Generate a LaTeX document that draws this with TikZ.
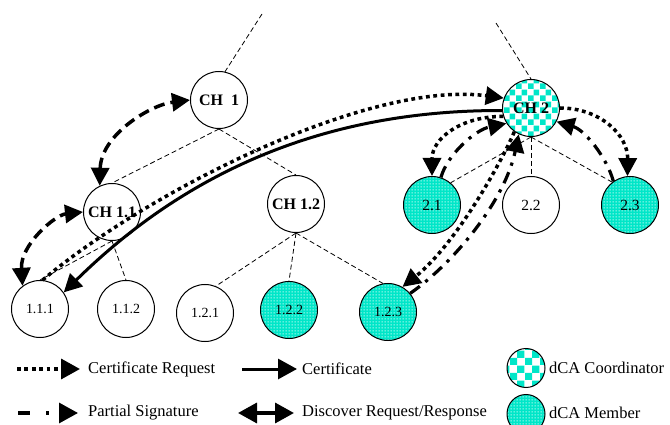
\documentclass[tikz,border=0pt]{standalone}
\usepackage{fontspec}
\setmainfont{Liberation Serif}
\usetikzlibrary{arrows.meta,patterns,patterns.meta,shapes.geometric}
\definecolor{tq}{RGB}{0,230,200}
\tikzdeclarepattern{name=chk,type=uncolored,bottom left={(0pt,0pt)},top right={(12pt,12pt)},tile size={(12pt,12pt)},
  code={\fill (0pt,0pt) rectangle (6pt,6pt); \fill (6pt,6pt) rectangle (12pt,12pt);}}
\tikzdeclarepattern{name=chkL,type=uncolored,bottom left={(0pt,0pt)},top right={(15pt,15pt)},tile size={(15pt,15pt)},
  code={\fill (0pt,0pt) rectangle (7.5pt,7.5pt); \fill (7.5pt,7.5pt) rectangle (15pt,15pt);}}
\tikzdeclarepattern{name=mesh,type=uncolored,bottom left={(0pt,0pt)},top right={(3pt,3pt)},tile size={(3pt,3pt)},
  code={\fill (0.8pt,0.8pt) rectangle (2.2pt,2.2pt);}}
\begin{document}
\begin{tikzpicture}[x=1pt,y=-1pt,
  >={Triangle[length=18pt,width=18pt]},
  nd/.style={circle,draw,line width=1pt,minimum size=57pt,inner sep=0pt},
  plain/.style={nd,fill=white},
  coord/.style={nd,preaction={fill=white},pattern=chk,pattern color=tq},
  member/.style={nd,preaction={fill=tq},pattern=mesh,pattern color=white!90!tq},
  chfont/.style={font=\fontsize{16}{16}\selectfont\bfseries},
  numfont/.style={font=\fontsize{14}{14}\selectfont},
  numfontb/.style={font=\fontsize{15.5}{15.5}\selectfont},
  lab/.style={font=\fontsize{16.5}{16.5}\selectfont,anchor=west,inner sep=0pt},
  tree/.style={line width=0.8pt,dash pattern=on 5pt off 3pt},
  creq/.style={line width=3.5pt,dash pattern=on 3.8pt off 3.6pt,->},
  cert/.style={line width=3pt,->},
  psig/.style={line width=3.2pt,dash pattern=on 12pt off 7pt on 3.2pt off 7pt,->},
  disc/.style={line width=3.5pt,dash pattern=on 11pt off 6pt,<->},
  big/.style={>={Triangle[length=19pt,width=20pt]}}
]
\useasboundingbox (0,0) rectangle (670,425);

% nodes
\node[plain,chfont] (ch1) at (219,100) {CH\ \ 1};
\node[plain,chfont] (ch11) at (112,212) {CH 1.1};
\node[plain,chfont] (ch12) at (296,204) {CH 1.2};
\node[plain,numfont] (n111) at (40,309) {\raisebox{-3pt}{1.1.1}};
\node[plain,numfont] (n112) at (126,309) {\raisebox{-3pt}{1.1.2}};
\node[plain,numfont] (n121) at (205,313) {\raisebox{-3pt}{1.2.1}};
\node[member,numfont] (n122) at (289,310) {\raisebox{-2pt}{1.2.2}};
\node[member,numfont] (n123) at (388,312) {\raisebox{-2pt}{1.2.3}};
\node[coord,chfont] (ch2) at (531,108) {CH 2};
\node[member,numfontb] (n21) at (432,205) {2.1};
\node[plain,numfontb] (n22) at (531,205) {2.2};
\node[member,numfontb] (n23) at (630,205) {2.3};

% tree
\coordinate (top1) at (262,14);
\coordinate (top2) at (496,23);
\draw[tree] (top1) -- (ch1.78);
\draw[tree] (top2) -- (ch2.north);
\draw[tree] (ch1.south) -- (ch11.north);
\draw[tree] (ch1.south) -- (ch12.north);
\draw[tree] (ch11.south) -- (n111.north);
\draw[tree] (ch11.south) -- (n112.north);
\draw[tree] (ch12.south) -- (n121.68);
\draw[tree] (ch12.south) -- (n122.north);
\draw[tree] (ch12.south) -- (n123.100);
\draw[tree] (ch2.south) -- (n21.50);
\draw[tree] (ch2.south) -- (n22.north);
\draw[tree] (ch2.south) -- (n23.128);

% messages
\draw[disc] (ch11.115) .. controls (101,135) and (150,105) .. (ch1.west);
\draw[disc] (n111.127) .. controls (20,245) and (55,215) .. (ch11.west);
\draw[creq] (n111.85) .. controls (150,190) and (370,80) .. (ch2.160);
\draw[cert] (ch2.185) .. controls (323,110) and (185,173) .. (n111.35);
\draw[creq] (ch2.197) .. controls (462,116) and (432,138) .. (n21.north);
\draw[psig] (n21.72) .. controls (447,155) and (475,130) .. (ch2.212);
\draw[creq] (ch2.east) .. controls (600,108) and (628,135) .. (n23.95);
\draw[psig] (n23.125) .. controls (607,158) and (585,130) .. (ch2.-28);
\draw[creq] (ch2.235) .. controls (500,165) and (455,245) .. (n123.60);
\draw[psig] (n123.40) .. controls (455,262) and (505,200) .. (ch2.245);

% legend
\coordinate (l1a) at (17,369); \coordinate (l1b) at (80,369);
\coordinate (l2a) at (242,369); \coordinate (l2b) at (297,369);
\coordinate (l3a) at (18,413); \coordinate (l3b) at (78,413);
\coordinate (l4a) at (238,413); \coordinate (l4b) at (294,413);
\draw[creq,big] (l1a) -- (l1b);
\draw[cert,big] (l2a) -- (l2b);
\draw[psig,big,dash pattern=on 12pt off 16pt on 3pt off 20pt] (l3a) -- (l3b);
\draw[line width=3.5pt,big,<->] (l4a) -- (l4b);
\node[lab] (t1) at (88,369) {Certificate Request};
\node[lab] (t2) at (302,369) {Certificate};
\node[lab] (t3) at (88,413) {Partial Signature};
\node[lab] (t4) at (302,413) {Discover Request/Response};
\node[ellipse,draw,line width=1pt,minimum width=38pt,minimum height=39pt,inner sep=0pt,preaction={fill=white},pattern=chkL,pattern color=tq] (lc) at (526,368) {};
\node[ellipse,draw,line width=1pt,minimum width=38pt,minimum height=39pt,inner sep=0pt,preaction={fill=tq},pattern=mesh,pattern color=white!90!tq] (lm) at (526,414) {};
\node[lab] (t5) at (549,368) {dCA Coordinator};
\node[lab] (t6) at (549,413) {dCA Member};
\end{tikzpicture}
\end{document}
